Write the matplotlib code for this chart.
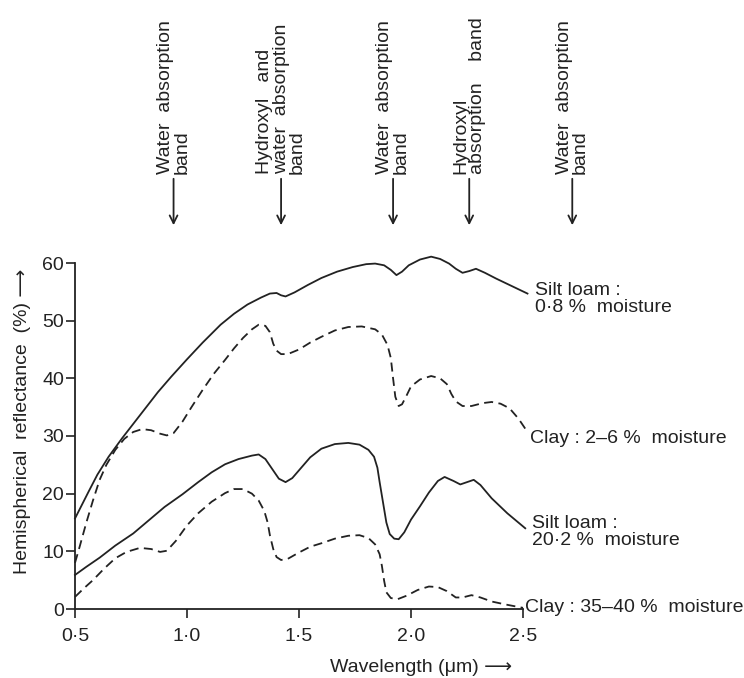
import matplotlib

matplotlib.use("Agg")
import matplotlib.pyplot as plt

plt.rcParams["font.family"] = ["Liberation Sans", "DejaVu Sans"]

INK = "#222222"

# --- data (wavelength in um, reflectance in %) ---
sl08_wl = [0.50, 0.53, 0.56, 0.60, 0.65, 0.71, 0.77, 0.82, 0.87, 0.93, 1.00,
           1.07, 1.15, 1.21, 1.27, 1.33, 1.37, 1.40, 1.42, 1.44, 1.48, 1.54,
           1.60, 1.67, 1.74, 1.80, 1.84, 1.88, 1.91, 1.935, 1.96, 1.99, 2.04,
           2.09, 2.13, 2.17, 2.20, 2.23, 2.26, 2.29, 2.33, 2.38, 2.45, 2.52]
sl08_refl = [15.7, 18.0, 20.3, 23.3, 26.4, 29.6, 32.6, 35.1, 37.6, 40.3, 43.3,
             46.2, 49.3, 51.2, 52.8, 54.0, 54.7, 54.8, 54.4, 54.2, 54.9, 56.2,
             57.4, 58.5, 59.3, 59.8, 59.9, 59.6, 58.8, 57.9, 58.5, 59.6, 60.6,
             61.1, 60.7, 59.9, 59.0, 58.3, 58.6, 59.0, 58.3, 57.3, 56.0, 54.7]

c26_wl = [0.50, 0.52, 0.55, 0.58, 0.61, 0.64, 0.68, 0.72, 0.76, 0.80, 0.84,
          0.88, 0.91, 0.94, 0.98, 1.02, 1.07, 1.12, 1.17, 1.21, 1.25, 1.29,
          1.32, 1.35, 1.37, 1.385, 1.40, 1.42, 1.45, 1.50, 1.55, 1.60, 1.66,
          1.72, 1.78, 1.84, 1.87, 1.895, 1.91, 1.92, 1.93, 1.945, 1.96, 1.98,
          2.00, 2.04, 2.09, 2.13, 2.16, 2.18, 2.20, 2.23, 2.27, 2.32, 2.36,
          2.40, 2.44, 2.48, 2.52]
c26_refl = [8.0, 10.7, 14.9, 18.8, 22.4, 25.0, 27.6, 29.5, 30.7, 31.2, 31.0,
            30.4, 30.1, 30.5, 32.5, 35.0, 38.0, 40.8, 43.2, 45.2, 47.0, 48.5,
            49.3, 49.1, 48.0, 46.0, 44.8, 44.2, 44.2, 45.0, 46.2, 47.2, 48.3,
            48.9, 49.0, 48.5, 47.6, 45.8, 43.5, 40.0, 36.8, 35.2, 35.5, 37.0,
            38.6, 39.8, 40.4, 40.0, 39.0, 37.3, 36.0, 35.2, 35.2, 35.7, 35.9,
            35.6, 34.8, 33.0, 30.7]

sl20_wl = [0.50, 0.55, 0.61, 0.68, 0.76, 0.83, 0.90, 0.98, 1.05, 1.11, 1.17,
           1.23, 1.29, 1.32, 1.35, 1.38, 1.41, 1.44, 1.47, 1.51, 1.55, 1.60,
           1.66, 1.72, 1.77, 1.81, 1.835, 1.85, 1.86, 1.875, 1.89, 1.905,
           1.925, 1.945, 1.97, 2.00, 2.04, 2.08, 2.12, 2.15, 2.19, 2.22, 2.25,
           2.28, 2.31, 2.36, 2.43, 2.51]
sl20_refl = [5.9, 7.3, 8.9, 11.0, 13.1, 15.4, 17.7, 19.9, 22.0, 23.7, 25.1,
             26.0, 26.6, 26.8, 26.0, 24.3, 22.6, 22.0, 22.7, 24.5, 26.3, 27.8,
             28.6, 28.8, 28.5, 27.6, 26.4, 24.5, 22.0, 18.5, 15.0, 13.0,
             12.2, 12.1, 13.3, 15.5, 17.8, 20.2, 22.2, 22.9, 22.2, 21.6, 22.0,
             22.4, 21.5, 19.2, 16.6, 14.0]

c3540_wl = [0.50, 0.54, 0.58, 0.63, 0.68, 0.73, 0.79, 0.84, 0.88, 0.91, 0.95,
            1.00, 1.05, 1.11, 1.17, 1.21, 1.25, 1.29, 1.32, 1.345, 1.36, 1.37,
            1.385, 1.40, 1.42, 1.45, 1.50, 1.55, 1.60, 1.66, 1.72, 1.77, 1.81,
            1.84, 1.86, 1.87, 1.88, 1.89, 1.91, 1.94, 1.98, 2.03, 2.08, 2.12,
            2.16, 2.20, 2.23, 2.27, 2.31, 2.36, 2.42, 2.50]
c3540_refl = [2.1, 3.6, 5.0, 7.0, 8.8, 9.9, 10.6, 10.4, 9.9, 10.1, 11.8,
              14.5, 16.6, 18.6, 20.1, 20.8, 20.8, 20.0, 18.8, 17.0, 15.0, 12.8,
              10.4, 9.0, 8.5, 8.7, 9.8, 10.8, 11.4, 12.2, 12.7, 12.8, 12.3,
              11.2, 9.5, 7.5, 4.9, 2.9, 1.9, 1.7, 2.3, 3.3, 3.9, 3.8,
              3.1, 2.0, 2.0, 2.4, 2.0, 1.3, 0.8, 0.2]

series_labels = ["Silt loam :\n0·8 %  moisture", "Clay : 2–6 %  moisture",
                 "Silt loam :\n20·2 %  moisture", "Clay : 35–40 %  moisture"]
label_pos = [(2.553, 53.7), (2.531, 29.6), (2.54, 13.3), (2.51, 0.2)]

band_wl = [0.94, 1.42, 1.92, 2.26, 2.72]
band_labels = ["Water  absorption\nband",
               "Hydroxyl   and\nwater  absorption\nband",
               "Water  absorption\nband",
               "Hydroxyl\nabsorption    band",
               "Water  absorption\nband"]

x_ticks = [0.5, 1.0, 1.5, 2.0, 2.5]
x_ticklabels = ["0·5", "1·0", "1·5", "2·0", "2·5"]
y_ticks = [0, 10, 20, 30, 40, 50, 60]

W, H = 744, 678
fig = plt.figure(figsize=(W / 100, H / 100), dpi=100)
ax = fig.add_axes([75 / W, (H - 609) / H, 448 / W, 346 / H])

dashed = (0, (5, 3))
for xs, ys, ls in [(sl08_wl, sl08_refl, "-"), (c26_wl, c26_refl, dashed),
                   (sl20_wl, sl20_refl, "-"), (c3540_wl, c3540_refl, dashed)]:
    ax.plot(xs, ys, color=INK, lw=1.3, ls=ls, clip_on=False,
            solid_joinstyle="round", dash_joinstyle="round")

for text, (x, y) in zip(series_labels, label_pos):
    ax.text(x, y, text, fontsize=14, color=INK, ha="left", va="center",
            linespacing=1.0, clip_on=False)

ax.set_xlim(0.5, 2.5)
ax.set_ylim(0, 60)
ax.set_xticks(x_ticks)
ax.set_xticklabels(x_ticklabels)
ax.set_yticks(y_ticks)
ax.tick_params(labelsize=14, colors=INK, length=6.5, width=1.2)
ax.tick_params(axis="x", pad=7)
ax.tick_params(axis="y", pad=1.5)
for side in ("top", "right"):
    ax.spines[side].set_visible(False)
for side in ("left", "bottom"):
    ax.spines[side].set_color(INK)
    ax.spines[side].set_linewidth(1.3)
ax.patch.set_alpha(0)

fig.text(23 / W, 1 - 421 / H, "Hemispherical  reflectance  (%) ⟶",
         rotation=90, ha="center", va="center", fontsize=14, color=INK)
fig.text(421 / W, 1 - 668 / H, "Wavelength (μm) ⟶",
         ha="center", va="center", fontsize=14, color=INK)

# absorption band markers above the plot
for wl, text in zip(band_wl, band_labels):
    ax.annotate("", xy=(wl, 1 - 228 / H), xytext=(wl, 1 - 176 / H),
                xycoords=("data", "figure fraction"),
                textcoords=("data", "figure fraction"),
                arrowprops=dict(arrowstyle="->", color=INK, lw=1.3,
                                mutation_scale=14))
    ax.annotate(text, xy=(wl, 1 - 174 / H),
                xycoords=("data", "figure fraction"),
                rotation=90, ha="center", va="bottom", multialignment="left",
                fontsize=14, color=INK, linespacing=0.95,
                annotation_clip=False)

fig.savefig("out.png", dpi=100, facecolor="white")
